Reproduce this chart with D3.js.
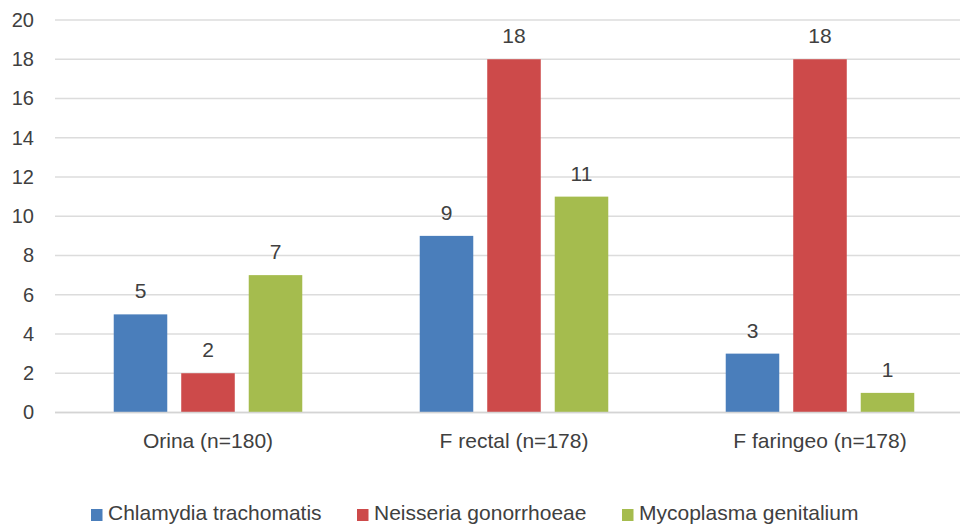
<!DOCTYPE html>
<html>
<head>
<meta charset="utf-8">
<script src="https://cdn.jsdelivr.net/npm/d3@7"></script>
<style>
  html, body { margin: 0; padding: 0; background: #fff; }
  svg { display: block; font-family: "Liberation Sans", Arial, Helvetica, sans-serif; }
</style>
</head>
<body>
<svg id="chart" width="960" height="528"></svg>
<script>
// Sample sites and the pathogens detected in each
const categories = ["Orina (n=180)", "F rectal (n=178)", "F faringeo (n=178)"];
const seriesNames = ["Chlamydia trachomatis", "Neisseria gonorrhoeae", "Mycoplasma genitalium"];
const chlamydia = [5, 9, 3];
const neisseria = [2, 18, 18];
const mycoplasma = [7, 11, 1];
const yTicks = [0, 2, 4, 6, 8, 10, 12, 14, 16, 18, 20];
const colors = ["#4a7ebb", "#cd4a4a", "#a5bc4e"];

const seriesValues = [chlamydia, neisseria, mycoplasma];

(function draw() {
  const svg = d3.select("#chart");
  const W = 960, H = 528;
  const plotLeft = 55, plotRight = 973, plotTop = 20, plotBottom = 412.5;

  const x0 = d3.scaleBand().domain(categories).range([plotLeft, plotRight]).paddingInner(0).paddingOuter(0);
  const x1 = d3.scaleBand().domain(seriesNames).range([0, x0.bandwidth()])
    .paddingInner(0.207).paddingOuter(0.87);
  const y = d3.scaleLinear().domain([0, 20]).range([plotBottom, plotTop]);

  const textColor = "#404040";
  const fontFamily = "Liberation Sans, Arial, sans-serif";

  // clip so the grid stops at the canvas edge
  svg.append("clipPath").attr("id", "plotclip")
    .append("rect").attr("x", 0).attr("y", 0).attr("width", W).attr("height", H);

  const plot = svg.append("g").attr("clip-path", "url(#plotclip)");

  // horizontal gridlines
  plot.append("g")
    .selectAll("line").data(yTicks).join("line")
    .attr("x1", plotLeft).attr("x2", plotRight)
    .attr("y1", d => y(d)).attr("y2", d => y(d))
    .attr("stroke", "#dcdcdc").attr("stroke-width", 1.3);

  // y axis labels
  const yAxis = d3.axisLeft(y).tickValues(yTicks).tickSize(0).tickPadding(0);
  const ya = svg.append("g").attr("transform", "translate(34,0)").call(yAxis);
  ya.select(".domain").remove();
  ya.selectAll("text")
    .attr("fill", textColor).attr("font-size", 20)
    .attr("font-family", fontFamily);

  // bars and value labels
  const groups = plot.selectAll("g.cat").data(categories).join("g")
    .attr("class", "cat")
    .attr("transform", d => `translate(${x0(d)},0)`);

  seriesNames.forEach((s, si) => {
    groups.append("rect")
      .attr("x", x1(s))
      .attr("width", x1.bandwidth())
      .attr("y", (d, ci) => y(seriesValues[si][ci]))
      .attr("height", (d, ci) => y(0) - y(seriesValues[si][ci]))
      .attr("fill", colors[si]);

    groups.append("text")
      .attr("x", x1(s) + x1.bandwidth() / 2)
      .attr("y", (d, ci) => y(seriesValues[si][ci]) - 16)
      .attr("text-anchor", "middle")
      .attr("fill", textColor)
      .attr("font-size", 21)
      .text((d, ci) => seriesValues[si][ci]);
  });

  // baseline
  plot.append("line")
    .attr("x1", plotLeft).attr("x2", plotRight)
    .attr("y1", y(0)).attr("y2", y(0))
    .attr("stroke", "#d4d4d4").attr("stroke-width", 1.5);

  // category labels
  const xAxis = d3.axisBottom(x0).tickSize(0).tickPadding(0);
  const xa = svg.append("g").attr("transform", `translate(0,${plotBottom + 20.5})`).call(xAxis);
  xa.select(".domain").remove();
  xa.selectAll("text")
    .attr("fill", textColor).attr("font-size", 21)
    .attr("font-family", fontFamily);

  // legend
  const legendX = [91, 357, 622];
  const legend = svg.append("g").selectAll("g").data(seriesNames).join("g")
    .attr("transform", (d, i) => `translate(${legendX[i]},509)`);
  legend.append("rect").attr("width", 11.5).attr("height", 12)
    .attr("fill", (d, i) => colors[i]);
  legend.append("text").attr("x", 17).attr("y", 11)
    .attr("fill", textColor).attr("font-size", 21)
    .text(d => d);
})();
</script>
</body>
</html>
